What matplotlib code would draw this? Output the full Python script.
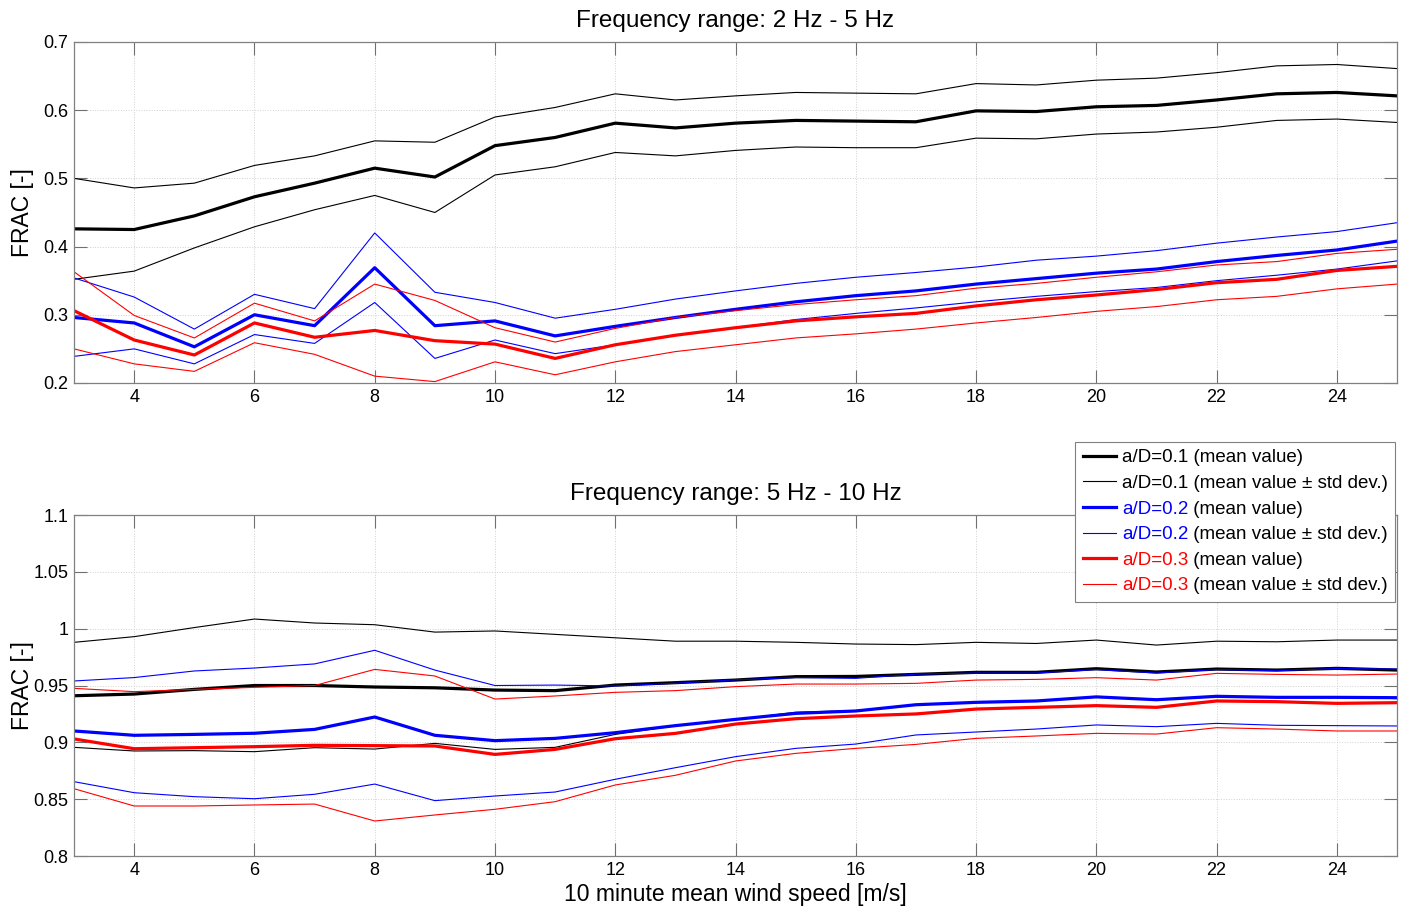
import matplotlib.pyplot as plt
import matplotlib.text as mtext
from matplotlib.ticker import FuncFormatter

plt.rcParams['font.family'] = ['Liberation Sans', 'DejaVu Sans']

wind = list(range(3, 26))

# frequency range 2 Hz - 5 Hz
lo_01_mean = [0.426, 0.425, 0.445, 0.473, 0.493, 0.515, 0.502, 0.548, 0.560, 0.581, 0.574, 0.581, 0.585, 0.584, 0.583, 0.599, 0.598, 0.605, 0.607, 0.615, 0.624, 0.626, 0.621]
lo_01_hi = [0.500, 0.486, 0.493, 0.519, 0.533, 0.555, 0.553, 0.590, 0.604, 0.624, 0.615, 0.621, 0.626, 0.625, 0.624, 0.639, 0.637, 0.644, 0.647, 0.655, 0.665, 0.667, 0.661]
lo_01_lo = [0.352, 0.364, 0.398, 0.429, 0.454, 0.475, 0.450, 0.505, 0.517, 0.538, 0.533, 0.541, 0.546, 0.545, 0.545, 0.559, 0.558, 0.565, 0.568, 0.575, 0.585, 0.587, 0.582]
lo_02_mean = [0.296, 0.288, 0.253, 0.300, 0.284, 0.369, 0.284, 0.291, 0.269, 0.283, 0.296, 0.308, 0.319, 0.328, 0.335, 0.345, 0.353, 0.361, 0.367, 0.378, 0.387, 0.395, 0.408]
lo_02_hi = [0.354, 0.326, 0.279, 0.330, 0.309, 0.420, 0.333, 0.318, 0.295, 0.308, 0.323, 0.335, 0.346, 0.355, 0.362, 0.370, 0.380, 0.386, 0.394, 0.405, 0.414, 0.422, 0.435]
lo_02_lo = [0.239, 0.250, 0.228, 0.271, 0.258, 0.318, 0.236, 0.263, 0.243, 0.256, 0.270, 0.281, 0.293, 0.302, 0.310, 0.319, 0.327, 0.334, 0.340, 0.350, 0.358, 0.367, 0.379]
lo_03_mean = [0.306, 0.263, 0.241, 0.288, 0.267, 0.277, 0.262, 0.257, 0.236, 0.256, 0.270, 0.281, 0.291, 0.297, 0.302, 0.313, 0.322, 0.329, 0.337, 0.347, 0.352, 0.365, 0.371]
lo_03_hi = [0.363, 0.299, 0.266, 0.317, 0.291, 0.345, 0.321, 0.281, 0.260, 0.280, 0.296, 0.306, 0.315, 0.322, 0.328, 0.339, 0.346, 0.355, 0.363, 0.373, 0.378, 0.390, 0.396]
lo_03_lo = [0.250, 0.228, 0.217, 0.259, 0.242, 0.210, 0.202, 0.231, 0.212, 0.231, 0.246, 0.256, 0.266, 0.272, 0.279, 0.288, 0.296, 0.305, 0.312, 0.322, 0.327, 0.338, 0.345]

# frequency range 5 Hz - 10 Hz
hi_01_mean = [0.941, 0.9425, 0.9466, 0.950, 0.950, 0.9487, 0.948, 0.946, 0.9455, 0.9504, 0.9525, 0.9548, 0.9578, 0.958, 0.9598, 0.9616, 0.9616, 0.9648, 0.9619, 0.9645, 0.9636, 0.9651, 0.9636]
hi_01_hi = [0.988, 0.993, 1.001, 1.0085, 1.005, 1.0035, 0.997, 0.998, 0.995, 0.992, 0.989, 0.989, 0.988, 0.9865, 0.986, 0.988, 0.987, 0.990, 0.9856, 0.989, 0.9885, 0.990, 0.990]
hi_01_lo = [0.8956, 0.8924, 0.8927, 0.8918, 0.8953, 0.8941, 0.8991, 0.8938, 0.8956, 0.907, 0.9145, 0.920, 0.9265, 0.928, 0.933, 0.935, 0.9365, 0.9398, 0.9377, 0.940, 0.9395, 0.9398, 0.9385]
hi_02_mean = [0.910, 0.9062, 0.907, 0.908, 0.9114, 0.9223, 0.9062, 0.9015, 0.9035, 0.9085, 0.9147, 0.9202, 0.9255, 0.9276, 0.9331, 0.9352, 0.9364, 0.940, 0.9375, 0.9405, 0.9396, 0.9396, 0.9393]
hi_02_hi = [0.954, 0.957, 0.9628, 0.9654, 0.969, 0.981, 0.9636, 0.950, 0.9504, 0.9496, 0.952, 0.955, 0.957, 0.9563, 0.960, 0.961, 0.961, 0.964, 0.961, 0.964, 0.963, 0.965, 0.9645]
hi_02_lo = [0.8654, 0.8557, 0.8522, 0.8504, 0.8543, 0.8633, 0.8487, 0.8528, 0.8563, 0.8675, 0.8777, 0.8874, 0.8947, 0.8985, 0.9065, 0.9091, 0.9117, 0.9153, 0.9138, 0.9167, 0.915, 0.9147, 0.9144]
hi_03_mean = [0.903, 0.8944, 0.8953, 0.8962, 0.8974, 0.8971, 0.8968, 0.8894, 0.8938, 0.9032, 0.9079, 0.9161, 0.9208, 0.9232, 0.925, 0.9293, 0.9308, 0.9323, 0.9308, 0.9364, 0.9358, 0.9343, 0.9349]
hi_03_hi = [0.9475, 0.9446, 0.9466, 0.9484, 0.950, 0.9642, 0.9584, 0.9381, 0.9408, 0.944, 0.9455, 0.949, 0.9513, 0.9513, 0.9519, 0.9548, 0.9554, 0.9569, 0.9548, 0.9607, 0.9598, 0.9592, 0.9601]
hi_03_lo = [0.8592, 0.844, 0.844, 0.8449, 0.8457, 0.8308, 0.8361, 0.8411, 0.8478, 0.8625, 0.871, 0.8836, 0.8903, 0.8947, 0.8982, 0.9035, 0.9056, 0.9079, 0.9073, 0.9129, 0.9117, 0.910, 0.910]

ratios = ['0.1', '0.2', '0.3']
colors = ['black', 'blue', 'red']

fig = plt.figure(figsize=(14.08, 9.09), dpi=100)
ax1 = fig.add_axes([0.0526, 0.5787, 0.9396, 0.3751])
ax2 = fig.add_axes([0.0526, 0.0583, 0.9396, 0.3751])

series = [
    (ax1, [(lo_01_mean, lo_01_hi, lo_01_lo), (lo_02_mean, lo_02_hi, lo_02_lo), (lo_03_mean, lo_03_hi, lo_03_lo)]),
    (ax2, [(hi_01_mean, hi_01_hi, hi_01_lo), (hi_02_mean, hi_02_hi, hi_02_lo), (hi_03_mean, hi_03_hi, hi_03_lo)]),
]

handles = []
labels = []
for ax, groups in series:
    for (mean, hi, lo), c, r in zip(groups, colors, ratios):
        l1, = ax.plot(wind, mean, color=c, linewidth=2.3)
        l2, = ax.plot(wind, hi, color=c, linewidth=0.8)
        ax.plot(wind, lo, color=c, linewidth=0.8)
        if ax is ax2:
            handles += [l1, l2]
            labels += ['a/D=' + r + ' (mean value)', 'a/D=' + r + ' (mean value \u00b1 std dev.)']

fmt = FuncFormatter(lambda v, p: f'{v:g}')
for ax in (ax1, ax2):
    ax.set_xlim(3, 25)
    ax.set_xticks(range(4, 26, 2))
    ax.yaxis.set_major_formatter(fmt)
    ax.grid(True, color='#d0d0d0', linestyle=':', linewidth=0.7)
    ax.tick_params(direction='in', length=9.5, width=0.8, color='#707070',
                   top=True, right=True, labelsize=13, pad=4)
    for s in ax.spines.values():
        s.set_color('#808080')
        s.set_linewidth(0.9)
    ax.set_ylabel('FRAC [-]', fontsize=16.5)
    ax.yaxis.set_label_coords(-0.0305, 0.5)

ax1.set_ylim(0.2, 0.7)
ax1.set_yticks([0.2, 0.3, 0.4, 0.5, 0.6, 0.7])
ax2.set_ylim(0.8, 1.1)
ax2.set_yticks([0.8, 0.85, 0.9, 0.95, 1.0, 1.05, 1.1])

ax1.set_title('Frequency range: 2 Hz - 5 Hz', fontsize=17.5, pad=11)
ax2.set_title('Frequency range: 5 Hz - 10 Hz', fontsize=17.5, pad=11)
ax2.set_xlabel('10 minute mean wind speed [m/s]', fontsize=16.5, labelpad=3)

leg = fig.legend(handles, labels, loc='upper left', bbox_to_anchor=(0.7635, 0.514),
                 bbox_transform=fig.transFigure, fontsize=13.5, fancybox=False,
                 framealpha=1, edgecolor='#808080', handlelength=1.8,
                 handletextpad=0.3, labelspacing=0.45, borderpad=0.4,
                 borderaxespad=0)
leg.get_frame().set_linewidth(0.8)
leg.set_zorder(10)

# colour only the "a/D=..." part of the blue and red entries
texts = leg.get_texts()
rests = {}
for i, t in enumerate(texts):
    c = colors[i // 2]
    if c != 'black':
        full = t.get_text()
        prefix = full.split(' ', 1)[0]
        rests[i] = full[len(prefix):]
        t.set_text(prefix)
        t.set_color(c)

fig.canvas.draw()
for i, rest in rests.items():
    t = texts[i]
    w = t.get_window_extent().width
    extra = mtext.Text(w, 0, rest, transform=t.get_transform(), va='baseline',
                       ha='left', fontproperties=t.get_fontproperties(), color='black')
    extra.set_zorder(11)
    fig.add_artist(extra)

fig.savefig('out.png', dpi=100)
